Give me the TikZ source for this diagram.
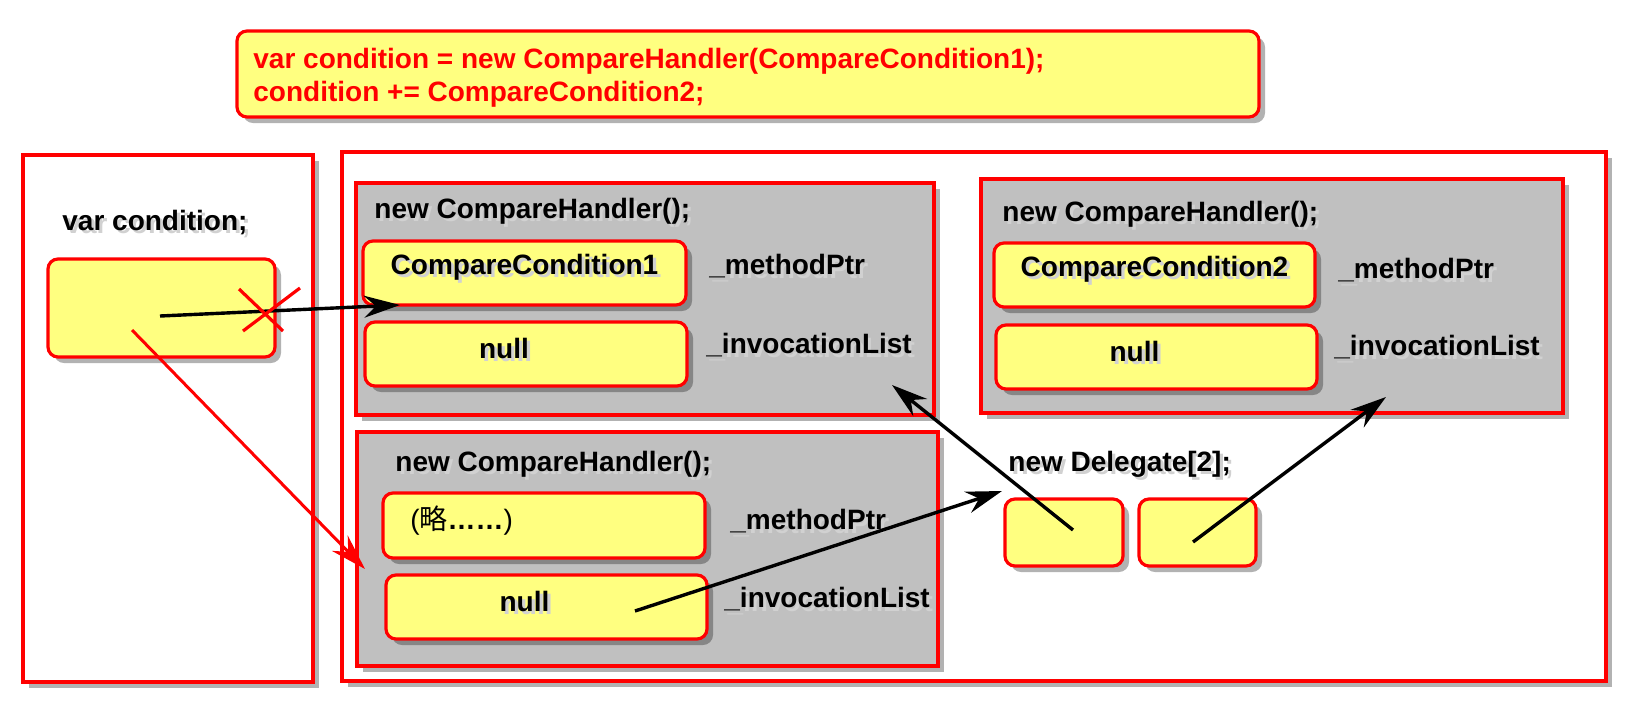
\documentclass[tikz,border=0pt]{standalone}
\usepackage{fontspec}
\setmainfont{Liberation Sans}
\newfontfamily\cjk{Noto Sans CJK SC}
\usetikzlibrary{arrows.meta,shadows,fit}
\definecolor{memoyellow}{RGB}{255,255,128}
\definecolor{objgray}{RGB}{192,192,192}
\newcommand\shtxt[1]{\makebox[0pt][l]{\hspace{1.6pt}\raisebox{-1.6pt}{\color{black!18}#1}}#1}

\tikzset{
  every node/.style={font=\fontsize{14}{16.5}\selectfont\bfseries},
  lbl/.style={anchor=west, inner sep=0pt},
  boxshadow/.style={drop shadow={shadow xshift=3pt, shadow yshift=-3pt, fill=black, opacity=0.3}},
  codebox/.style={draw=red, line width=1.6pt, fill=memoyellow, rounded corners=5pt, inner sep=0pt, boxshadow},
  frame/.style={draw=red, line width=1.8pt, fill=white, inner sep=0pt, boxshadow},
  objbox/.style={draw=red, line width=1.8pt, fill=objgray, inner sep=0pt, boxshadow},
  field/.style={draw=red, line width=1.6pt, fill=memoyellow, rounded corners=5pt, inner sep=0pt, boxshadow},
  ptr/.style={line width=1.7pt, -{Stealth[length=18pt,width=11pt,inset=6pt]}},
  newptr/.style={ptr, red, line width=1.5pt}
}

\begin{document}
\begin{tikzpicture}[x=0.5pt,y=-0.5pt]
  \useasboundingbox (0,0) rectangle (1628,709);

  %%%%% code %%%%%
  \node[codebox, fit={(237,31) (1259,117)}] (code) {};
  \node[lbl, align=left, text=red] (codetxt) at (253,78)
    {var condition = new CompareHandler(CompareCondition1);\\condition += CompareCondition2;};

  %%%%% stack and heap %%%%%
  \node[frame, fit={(23,155) (313,682)}] (stack) {};
  \node[frame, fit={(342,152) (1606,681)}] (heap) {};

  \node[lbl] (varlbl) at (62,224) {\shtxt{var condition;}};
  \node[field, fit={(48,259) (275,357)}] (varbox) {};

  %%%%% first handler %%%%%
  \node[objbox, fit={(356,183) (934,415)}] (hdlA) {};
  \node[lbl] (hdlAlbl) at (374,213) {\shtxt{new CompareHandler();}};
  \node[field, fit={(363,241) (686,305)}] (methA) {};
  \node (methAtxt) at ([yshift=2pt]methA.center) {\shtxt{CompareCondition1}};
  \node[field, fit={(365,322) (687,386)}] (listA) {};
  \node (listAtxt) at ([xshift=-11pt,yshift=2pt]listA.center) {\shtxt{null}};
  \node[lbl] (methAlbl) at (709,268) {\shtxt{\_methodPtr}};
  \node[lbl] (listAlbl) at (706,347) {\shtxt{\_invocationList}};

  %%%%% second handler %%%%%
  \node[objbox, fit={(357,432) (938,666)}] (hdlB) {};
  \node[lbl] (hdlBlbl) at (395,466) {\shtxt{new CompareHandler();}};
  \node[field, fit={(383,493) (705,558)}] (methB) {};
  \node[lbl] (methBtxt) at (410,521) {{\mdseries(}{\cjk\mdseries 略}……{\mdseries)}};
  \node[field, fit={(386,575) (707,639)}] (listB) {};
  \node (listBtxt) at ([xshift=-11pt,yshift=2pt]listB.center) {\shtxt{null}};
  \node[lbl] (methBlbl) at (730,523) {\shtxt{\_methodPtr}};
  \node[lbl] (listBlbl) at (724,601) {\shtxt{\_invocationList}};

  %%%%% third handler %%%%%
  \node[objbox, fit={(981,179) (1563,413)}] (hdlC) {};
  \node[lbl] (hdlClbl) at (1002,216) {\shtxt{new CompareHandler();}};
  \node[field, fit={(994,243) (1315,307)}] (methC) {};
  \node (methCtxt) at ([yshift=2pt]methC.center) {\shtxt{CompareCondition2}};
  \node[field, fit={(996,325) (1317,389)}] (listC) {};
  \node (listCtxt) at ([xshift=-11pt,yshift=2pt]listC.center) {\shtxt{null}};
  \node[lbl] (methClbl) at (1338,272) {\shtxt{\_methodPtr}};
  \node[lbl] (listClbl) at (1334,349) {\shtxt{\_invocationList}};

  %%%%% delegate array %%%%%
  \node[lbl] (arrlbl) at (1008,466) {\shtxt{new Delegate[2];}};
  \node[field, fit={(1005,499) (1123,566)}] (slotA) {};
  \node[field, fit={(1139,499) (1256,566)}] (slotB) {};

  %%%%% pointers %%%%%
  \coordinate (varptr) at (160,316);
  \coordinate (methAhit) at (400,305);
  \coordinate (varsrc) at (132,330);
  \coordinate (listBhit) at (365,569);
  \coordinate (listBsrc) at (635,611);
  \coordinate (slotAhit) at (1002,491);
  \coordinate (slotAsrc) at (1073,530);
  \coordinate (hdlAhit) at (892,385);
  \coordinate (slotBsrc) at (1193,542);
  \coordinate (hdlChit) at (1386,397);

  \draw[ptr] (varptr) -- (methAhit);
  \draw[red, line width=1.6pt] (239,289) -- (283,331) (300,288) -- (243,331);
  \draw[newptr] (varsrc) -- (listBhit);
  \draw[ptr] (listBsrc) -- (slotAhit);
  \draw[ptr] (slotAsrc) -- (hdlAhit);
  \draw[ptr] (slotBsrc) -- (hdlChit);
\end{tikzpicture}
\end{document}
